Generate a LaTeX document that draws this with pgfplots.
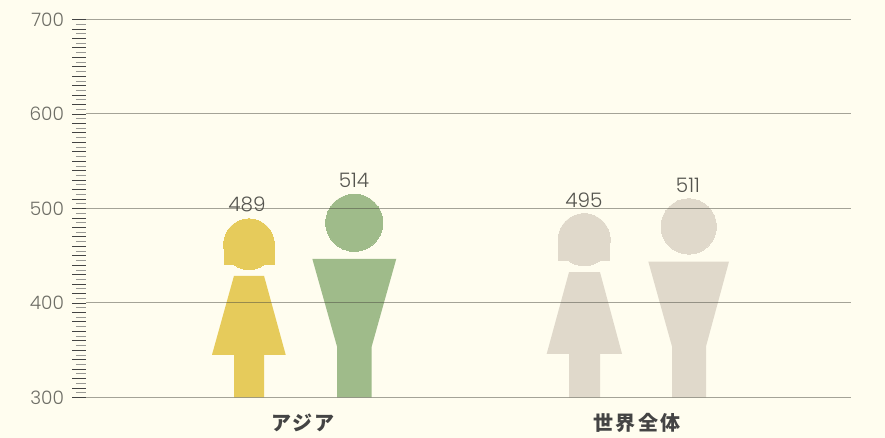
\documentclass[border=0pt]{standalone}
\usepackage{fontspec}
\usepackage{pgfplots}
\pgfplotsset{compat=1.18}
\setmainfont{Poppins Light}
\newfontfamily\cjk[LetterSpace=12]{Noto Sans CJK JP}
\definecolor{bg}{HTML}{FFFDEF}
\definecolor{yel}{HTML}{E6CB5B}
\definecolor{grn}{HTML}{9FBB8A}
\definecolor{bei}{HTML}{E0D9CB}
\definecolor{gridc}{HTML}{4A4A40}
\definecolor{tickc}{HTML}{6E6E66}
\definecolor{valc}{HTML}{55554F}
\definecolor{catc}{HTML}{444444}
\pgfplotsset{
  valuelabel/.style={draw=none, mark=none, nodes near coords,
    nodes near coords style={anchor=center, yshift=#1, font=\fontsize{20}{22}\selectfont, text=valc},
    /pgf/number format/assume math mode=true},
  head/.style 2 args={only marks, color=#2, mark=*, mark size=#1, mark options={solid, draw=#2, fill=#2, line width=0pt}},
  gridrule/.style={gridc, opacity=0.5, line width=1pt, mark=none},
  frame/.style={at={(0pt,0pt)}, anchor=south west,
    scale only axis, width=765pt, height=378pt,
    xmin=86, xmax=851, ymin=300, ymax=700, clip=false},
}
\begin{document}
\begin{tikzpicture}
\fill[bg] (-86pt,-40.5pt) rectangle (799pt,397.5pt);
\begin{axis}[
  frame,
  axis x line*=bottom, axis y line*=left,
  axis line style={-},
  x axis line style={draw=none},
  y axis line style={draw=none},
  xtick={303,637},
  xticklabels={アジア,世界全体},
  x tick style={draw=none},
  x tick label style={font=\cjk\bfseries\fontsize{20}{22}\selectfont, text=catc, anchor=center, yshift=-11.5pt},
  ytick={300,400,500,600,700},
  tick align=outside,
  major tick length=13.5pt,
  minor tick length=10pt,
  y tick style={draw=catc, line width=0.8pt},
  minor y tick style={draw=tickc!70, line width=0.8pt},
  minor ytick={305,315,...,695},
  extra y ticks={310,320,330,340,350,360,370,380,390,410,420,430,440,450,460,470,480,490,510,520,530,540,550,560,570,580,590,610,620,630,640,650,660,670,680,690},
  extra y tick labels={},
  extra y tick style={y tick style={draw=catc, line width=0.8pt}},
  y tick label style={font=\fontsize{18.5}{20}\selectfont, text=tickc, anchor=east, xshift=-5pt},
  /pgf/number format/assume math mode=true,
  /pgf/number format/fixed,
]
% asia women
\addplot[fill=yel, draw=none] coordinates {(234,300) (234,345.2) (212,345.2) (234,428.8) (264,428.8) (285.7,345.2) (264,345.2) (264,300)} -- cycle;
\addplot[fill=yel, draw=none] coordinates {(223.7,439.7) (223.7,463.3) (275,463.3) (275,439.7)} -- cycle;
\addplot[head={25.4pt}{yel}] coordinates {(249,462.2)};
\addplot[valuelabel=14pt] coordinates {(247,489)};
% asia men
\addplot[fill=grn, draw=none] coordinates {(337,300) (337,354) (312.3,446.8) (396.3,446.8) (371.7,354) (371.7,300)} -- cycle;
\addplot[head={28.6pt}{grn}] coordinates {(354.3,484.9)};
\addplot[valuelabel=15pt] coordinates {(354,514)};
% world women
\addplot[fill=bei, draw=none] coordinates {(569,300) (569,346.2) (546.7,346.2) (569,432.6) (600,432.6) (622,346.2) (600,346.2) (600,300)} -- cycle;
\addplot[fill=bei, draw=none] coordinates {(558,444.2) (558,466.1) (610.3,466.1) (610.3,444.2)} -- cycle;
\addplot[head={26.1pt}{bei}] coordinates {(584.2,467)};
\addplot[valuelabel=12.5pt] coordinates {(584,495)};
% world men
\addplot[fill=bei, draw=none] coordinates {(672,300) (672,354) (648.3,443.9) (729,443.9) (706,354) (706,300)} -- cycle;
\addplot[head={27.7pt}{bei}] coordinates {(688.7,481)};
\addplot[valuelabel=12.5pt] coordinates {(688,511)};
\end{axis}
% rules run over the figures, so a second axis on top
\begin{axis}[frame, axis lines=none]
\addplot[gridrule] coordinates {(86,300) (851,300)};
\addplot[gridrule] coordinates {(86,400) (851,400)};
\addplot[gridrule] coordinates {(86,500) (851,500)};
\addplot[gridrule] coordinates {(86,600) (851,600)};
\addplot[gridrule] coordinates {(86,700) (851,700)};
\end{axis}
\end{tikzpicture}
\end{document}
